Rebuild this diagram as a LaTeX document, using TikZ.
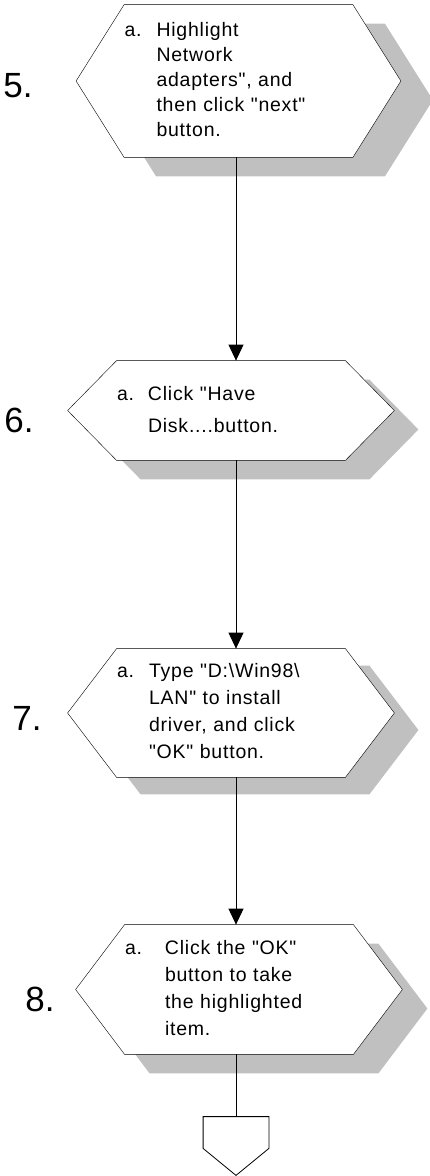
\documentclass[tikz,border=0pt]{standalone}
\usepackage{fontspec}
\setmainfont{Liberation Sans}[Ligatures=TeXOff]
\usetikzlibrary{calc,arrows.meta,backgrounds}
\definecolor{shadowgray}{RGB}{192,192,192}

\begin{document}
\begin{tikzpicture}[x=1pt, y=-1pt, >={Triangle[length=16pt,width=15pt]}, line width=0.8pt,
      stepbox/.style={inner sep=0pt, text width=228pt, align=left,
        font=\addfontfeatures{LetterSpace=4}\fontsize{19.5}{25}\selectfont},
      num/.style={inner sep=0pt, anchor=west, font=\fontsize{35}{40}\selectfont},
      hexline/.style={draw=black, fill=white}]
  \useasboundingbox (0,0) rectangle (430,1176);
  \coordinate (axis) at (236,0);
  % steps
  \node[stepbox, minimum height=152pt] (h5) at (238.5,81)
    {\begin{tabular}{@{}p{32pt}@{}l@{}}a. & Highlight\\ & Network\\ & adapters", and\\ & then click "next"\\ & button.\end{tabular}};
  \node[stepbox, minimum height=99pt, font=\addfontfeatures{LetterSpace=4}\fontsize{19.5}{32}\selectfont] (h6) at (231,410.5)
    {\begin{tabular}{@{}p{31pt}@{}l@{}}a. & Click "Have\\ & Disk....button.\end{tabular}};
  \node[stepbox, minimum height=128pt, font=\addfontfeatures{LetterSpace=4}\fontsize{19.5}{27}\selectfont] (h7) at (231,713)
    {\begin{tabular}{@{}p{32pt}@{}l@{}}a. & Type "D:\textbackslash Win98\textbackslash\\ & LAN" to install\\ & driver, and click\\ & "OK" button.\end{tabular}};
  \node[stepbox, minimum height=129pt, font=\addfontfeatures{LetterSpace=4}\fontsize{19.5}{27}\selectfont] (h8) at (239,989.5)
    {\begin{tabular}{@{}p{40pt}@{}l@{}}a. & Click the "OK"\\ & button to take\\ & the highlighted\\ & item.\end{tabular}};
  \node[num] (n5) at (3,86) {5.};
  \node[num] (n6) at (4,420) {6.};
  \node[num] (n7) at (12,718) {7.};
  \node[num] (n8) at (25,999) {8.};
  \node[inner sep=0pt, minimum width=65pt, minimum height=31pt] (off) at (236,1132.5) {};
  % outlines with drop shadows
  \begin{scope}[on background layer]
    \foreach \n/\d/\sx/\sy in {h5/48/32/19, h6/49/24/19, h7/49/24/17, h8/49/25/19} {
      \fill[shadowgray, transform canvas={shift={(\sx pt,-\sy pt)}}] (\n.north west) -- (\n.north east)
        -- ($(\n.east)+(\d,0)$) -- (\n.south east) -- (\n.south west) -- ($(\n.west)+(-\d,0)$) -- cycle;
      \draw[hexline] (\n.north west) -- (\n.north east)
        -- ($(\n.east)+(\d,0)$) -- (\n.south east) -- (\n.south west) -- ($(\n.west)+(-\d,0)$) -- cycle;
    }
  \end{scope}
  \draw[->] (h5.south -| axis) -- (h6.north -| axis);
  \draw[->] (h6.south -| axis) -- (h7.north -| axis);
  \draw[->] (h7.south -| axis) -- (h8.north -| axis);
  \draw (h8.south -| axis) -- (off.north);
  \draw[hexline] (off.north west) -- (off.north east) -- (off.south east)
    -- ($(off.south)+(0,27)$) -- (off.south west) -- cycle;
\end{tikzpicture}
\end{document}
